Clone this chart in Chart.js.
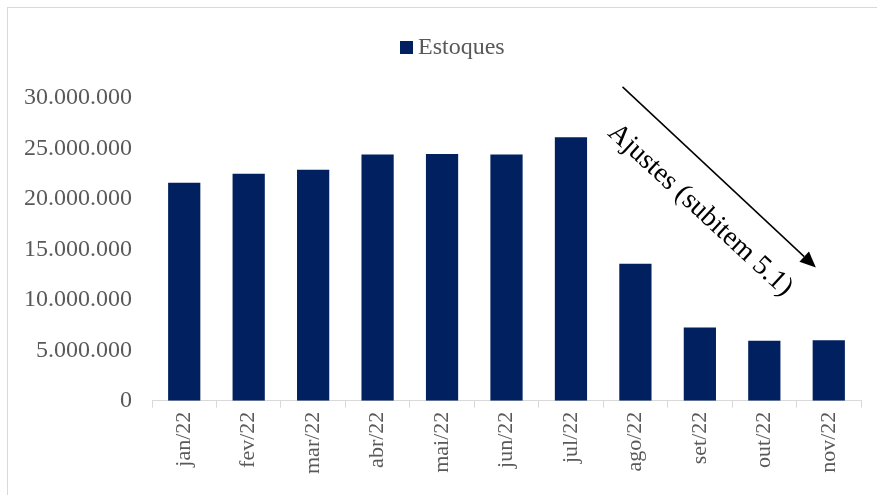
<!DOCTYPE html>
<html><head><meta charset="utf-8">
<script src="https://cdn.jsdelivr.net/npm/chart.js@4"></script>
<style>
html,body{margin:0;padding:0;background:#fff;}
#wrap{position:relative;width:877px;height:495px;}
canvas{display:block;}
#frame{position:absolute;left:7px;top:7px;width:869px;height:487px;border-left:1px solid #d9d9d9;border-top:1px solid #d9d9d9;pointer-events:none;}
</style></head>
<body><div id="wrap"><canvas id="c" width="877" height="495"></canvas><div id="frame"></div></div>
<script>
const categories = ['jan/22','fev/22','mar/22','abr/22','mai/22','jun/22','jul/22','ago/22','set/22','out/22','nov/22'];
const estoques = [21600000, 22500000, 22900000, 24400000, 24450000, 24400000, 26100000, 13560000, 7260000, 5940000, 6000000];
const seriesName = 'Estoques';
const yTicks = [0, 5000000, 10000000, 15000000, 20000000, 25000000, 30000000];
const annotationText = 'Ajustes (subitem 5.1)';
// arrow endpoints in data space: [category index, value]
const arrowFrom = [6.8, 31100000];
const arrowTo = [9.8, 13200000];

const FONT = "'Liberation Serif', 'Times New Roman', serif";
const BAR_COLOR = '#002060';
const TEXT_COLOR = '#595959';
const fmt = v => v.toString().replace(/\B(?=(\d{3})+(?!\d))/g, '.');

const arrowPlugin = {
  id: 'arrowAnno',
  afterDraw(chart) {
    const {ctx, scales:{x, y}} = chart;
    const catW = x.getPixelForValue(1) - x.getPixelForValue(0);
    const px = i => x.getPixelForValue(0) + catW * i;
    const x1 = px(arrowFrom[0]), y1 = y.getPixelForValue(arrowFrom[1]);
    const x2 = px(arrowTo[0]), y2 = y.getPixelForValue(arrowTo[1]);
    const ang = Math.atan2(y2 - y1, x2 - x1);
    ctx.save();
    ctx.strokeStyle = '#000'; ctx.fillStyle = '#000'; ctx.lineWidth = 1.5;
    const hl = 16, hw = 7;
    const bx = x2 - hl * Math.cos(ang), by = y2 - hl * Math.sin(ang);
    ctx.beginPath(); ctx.moveTo(x1, y1); ctx.lineTo(bx, by); ctx.stroke();
    ctx.beginPath();
    ctx.moveTo(x2, y2);
    ctx.lineTo(bx + hw * Math.sin(ang), by - hw * Math.cos(ang));
    ctx.lineTo(bx - hw * Math.sin(ang), by + hw * Math.cos(ang));
    ctx.closePath(); ctx.fill();
    const mx = (x1 + x2) / 2 - 19, my = (y1 + y2) / 2 + 33;
    ctx.translate(mx, my); ctx.rotate(ang - 0.007);
    ctx.font = '28px ' + FONT; ctx.textAlign = 'center'; ctx.textBaseline = 'middle';
    ctx.fillText(annotationText, 0, 0);
    ctx.restore();
  }
};

// legend (single series)
const legendPlugin = {
  id: 'customLegend',
  afterDraw(chart) {
    const ctx = chart.ctx;
    const ds = chart.data.datasets[0];
    ctx.save();
    ctx.fillStyle = ds.backgroundColor;
    ctx.fillRect(400, 41, 13, 13);
    ctx.fillStyle = TEXT_COLOR;
    ctx.font = '24px ' + FONT; ctx.textAlign = 'left'; ctx.textBaseline = 'middle';
    ctx.fillText(ds.label, 418, 48);
    ctx.restore();
  }
};

new Chart(document.getElementById('c'), {
  type: 'bar',
  data: { labels: categories, datasets: [{ label: seriesName, data: estoques, backgroundColor: BAR_COLOR, borderWidth: 0, barPercentage: 0.5, categoryPercentage: 1 }] },
  options: {
    responsive: false, animation: false, devicePixelRatio: 1,
    layout: { padding: { left: 4, right: 16, top: 98, bottom: 17 } },
    plugins: {
      legend: { display: false },
      tooltip: { enabled: false }
    },
    scales: {
      x: {
        grid: { drawOnChartArea: false, drawTicks: true, tickLength: 7, color: '#d9d9d9', offset: true },
        border: { display: true, color: '#d9d9d9', width: 1 },
        ticks: { font: { family: FONT, size: 22 }, color: TEXT_COLOR, minRotation: 90, maxRotation: 90, padding: 4 }
      },
      y: {
        min: 0, max: 30000000,
        afterBuildTicks: s => { s.ticks = yTicks.map(v => ({ value: v })); },
        grid: { display: false, drawTicks: false },
        border: { display: false },
        ticks: { font: { family: FONT, size: 24 }, color: TEXT_COLOR, padding: 20, callback: v => fmt(v) }
      }
    }
  },
  plugins: [arrowPlugin, legendPlugin]
});
</script></body></html>
